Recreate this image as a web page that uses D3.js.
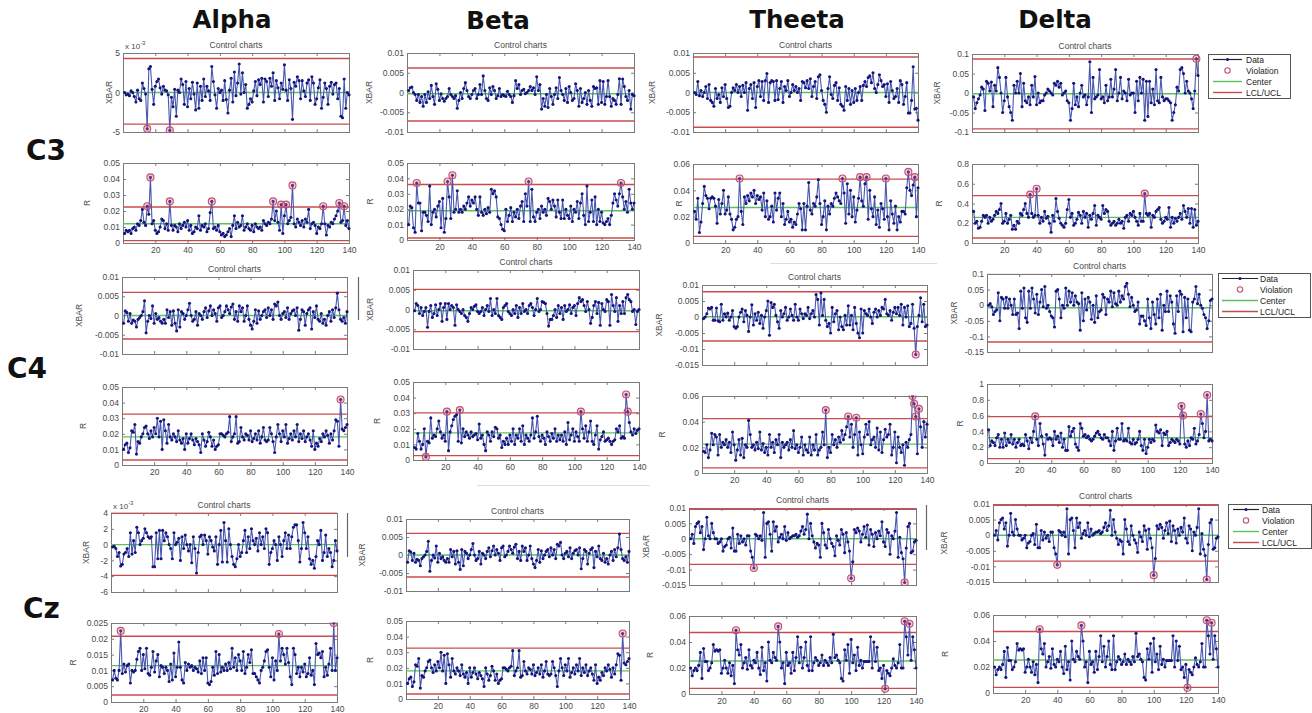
<!DOCTYPE html>
<html><head><meta charset="utf-8">
<script src="https://cdn.jsdelivr.net/npm/d3@7"></script>
<style>
html,body{margin:0;padding:0;background:#fff;}
svg{display:block;}
</style></head>
<body>
<svg id="c" width="1312" height="713"></svg>
<script>
// ---------------- categories / labels ----------------
const bands = ["Alpha", "Beta", "Theeta", "Delta"];
const channels = ["C3", "C4", "Cz"];
const xTicks = [20, 40, 60, 80, 100, 120, 140];
const nPoints = 140;
const legendItems = ["Data", "Violation", "Center", "LCL/UCL"];

// ---------------- y tick sets ----------------
const ticksAlphaX = [-0.005, 0, 0.005];
const ticksX01 = [-0.01, -0.005, 0, 0.005, 0.01];
const ticksX015 = [-0.015, -0.01, -0.005, 0, 0.005, 0.01];
const ticksDeltaC3X = [-0.1, -0.05, 0, 0.05, 0.1];
const ticksDeltaC4X = [-0.15, -0.1, -0.05, 0, 0.05, 0.1];
const ticksAlphaCzX = [-0.006, -0.004, -0.002, 0, 0.002, 0.004];
const ticksR05 = [0, 0.01, 0.02, 0.03, 0.04, 0.05];
const ticksR06 = [0, 0.02, 0.04, 0.06];
const ticksR08 = [0, 0.2, 0.4, 0.6, 0.8];
const ticksR1 = [0, 0.2, 0.4, 0.6, 0.8, 1];
const ticksR025 = [0, 0.005, 0.01, 0.015, 0.02, 0.025];

// ---------------- series ----------------
// C3 / Alpha  XBAR (x1e-4), R (x1e-3)
const alphaC3_xbar = [0,-3,-2,-4,2,0,-5,-12,3,-8,-10,12,5,-2,-46,30,33,4,-15,8,
 14,17,6,-2,8,3,2,-3,-48,-6,-18,4,-30,3,0,17,10,-15,14,-18,
 5,-8,13,-2,-22,12,-20,8,-10,17,-5,8,2,-10,33,14,-3,-20,5,0,
 3,-10,15,-9,-26,3,18,-12,26,-4,12,36,-2,25,0,10,-20,-15,-8,-12,
 2,14,-4,16,10,18,-12,17,14,-5,18,8,25,-10,15,6,-8,12,4,35,
 3,-10,16,5,-34,13,8,20,15,-8,15,2,-5,12,16,-10,20,12,-15,-8,
 6,16,-20,-6,12,5,-15,8,13,-2,10,12,-8,5,-30,-32,17,-20,0,-3];
const alphaC3_xbarLim = [-40, 0, 43];
const alphaC3_r = [6,8,7,8,6,9,10,8,12,11,14,21,13,11,23,18,41,12,14,8,
 6,7,10,15,14,9,12,8,26,11,8,11,10,7,12,9,11,13,10,14,
 8,11,6,7,10,9,17,8,11,10,12,7,9,19,26,9,10,8,11,7,
 5,6,4,5,7,9,4,11,17,9,13,10,11,17,8,10,12,9,8,11,
 7,12,10,9,10,8,14,12,11,13,12,15,26,14,20,13,8,24,6,17,
 24,12,14,16,36,12,10,15,13,11,14,10,15,13,21,9,12,13,11,6,
 10,9,12,23,12,5,11,10,13,12,15,17,20,25,13,14,23,11,14,9];
const alphaC3_rLim = [1.5, 12, 22.5];

// C3 / Beta  XBAR (x1e-4), R (x1e-3)
const betaC3_xbar = [5,12,14,0,-5,-20,-5,-25,-10,-35,-5,-25,2,-15,18,-10,-30,22,8,-20,
 -3,-15,-22,-15,-10,10,-5,-10,-15,-8,-40,-20,0,-15,10,25,5,-10,-15,-5,
 5,10,-15,-5,20,-5,42,5,-15,-20,12,-5,15,5,-15,-8,10,-10,-5,-8,
 -10,3,-5,-10,-25,-8,30,10,20,-5,5,8,-3,0,5,15,5,12,-5,40,
 5,20,-42,-15,-35,-5,-38,10,-10,-30,-5,12,-15,38,5,-5,-20,10,-25,15,
 0,-20,-15,22,5,-35,10,-25,-15,0,-30,5,-20,-35,15,10,12,-30,30,-25,
 28,-30,-10,30,-10,-35,-15,-20,-30,-5,35,-30,34,15,-10,-20,5,-42,-5,-8];
const betaC3_xbarLim = [-72, -3, 62];
const betaC3_r = [10,22,21,8,5,37,24,24,6,18,18,16,12,35,10,18,20,15,22,25,
 8,27,5,14,38,28,14,42,18,20,32,18,20,18,22,20,24,28,22,26,
 24,28,20,16,28,18,16,20,17,21,18,33,30,32,28,15,14,10,7,6,
 20,12,16,21,12,18,15,20,14,22,25,12,30,22,38,12,33,15,12,18,
 20,14,22,18,20,16,27,25,20,26,22,15,26,18,14,26,14,20,16,14,
 22,12,20,18,25,14,24,30,16,10,35,12,18,26,12,28,10,20,12,18,
 11,10,12,14,10,16,24,30,26,22,30,37,28,20,25,18,33,24,20,24];
const betaC3_rLim = [1.3, 19, 36];

// C3 / Theeta  XBAR (x1e-4), R (x1e-3)
const theetaC3_xbar = [0,-5,28,-8,5,-10,0,15,-15,20,-20,-25,-35,10,-15,-5,-25,12,-10,20,
 -15,-38,-35,0,12,5,20,0,15,-10,18,0,25,-45,10,20,-15,25,-38,15,
 30,-10,28,-20,30,48,-25,25,30,28,-20,30,-18,10,28,-25,15,5,30,-10,
 0,20,5,15,0,10,-20,28,25,12,30,10,35,-10,15,28,-15,40,45,5,
 -20,-30,-50,10,40,-5,-15,18,25,-20,12,-30,-35,-45,15,-20,10,-30,5,-25,
 10,-20,0,15,-20,18,28,15,38,42,25,50,10,0,20,45,30,15,20,-10,
 22,-25,28,5,-15,-10,10,-25,30,20,-30,-10,25,-52,-52,-20,65,-42,-40,-70];
const theetaC3_xbarLim = [-88, 0, 90];
const theetaC3_r = [24,18,34,8,16,30,43,36,34,26,34,35,34,28,15,33,22,30,40,22,
 25,35,22,18,10,12,18,20,49,24,14,35,30,36,32,38,35,40,30,36,
 33,35,25,38,20,32,18,20,28,16,38,25,34,38,20,30,14,18,24,16,
 18,12,16,14,22,30,26,10,30,10,28,46,25,22,30,28,35,48,30,14,
 20,32,10,28,22,30,28,34,38,35,32,30,49,38,15,45,22,40,20,35,
 16,25,34,50,32,28,45,50,18,40,26,20,35,14,25,12,30,26,18,49,
 20,10,32,22,15,28,10,20,16,24,24,22,42,54,40,36,44,50,20,42];
const theetaC3_rLim = [5, 27, 48.5];

// C3 / Delta  XBAR (x1e-3), R (x1e-2)
const deltaC3_xbar = [-10,-40,-25,-15,-5,15,10,-45,30,25,5,28,-35,20,5,65,40,0,-50,-20,
 40,-10,-35,-50,-70,20,0,30,0,50,-35,25,-20,-25,-10,-30,20,-10,42,-30,
 0,-25,-20,-20,-5,0,10,5,0,-5,25,20,30,15,25,-5,0,5,-20,-25,
 -70,-40,25,-30,-10,-35,0,20,-10,-5,-30,-10,80,-50,40,-15,-10,-5,60,-15,
 -10,-25,20,-20,-10,35,-10,10,60,-20,0,40,-15,5,0,-20,35,-5,0,0,
 -50,30,-20,40,0,35,-70,30,-60,30,-25,10,-30,60,-20,-25,40,-10,-20,-15,
 -15,-20,-25,-70,-50,-30,15,5,60,65,50,0,30,5,0,-15,-40,5,88,45];
const deltaC3_xbarLim = [-92, -2, 87];
const deltaC3_r = [32,20,22,15,16,22,28,26,28,20,26,22,24,28,32,30,34,40,20,22,
 30,20,24,28,14,18,14,22,20,30,28,34,40,30,26,49,30,26,28,55,
 28,20,26,22,32,25,27,20,11,28,22,45,32,25,20,18,16,20,34,44,
 26,30,18,20,24,31,28,20,32,26,30,16,28,24,30,38,18,28,26,24,
 38,30,34,32,22,18,20,22,18,20,24,20,22,15,26,28,22,30,28,32,
 26,22,18,30,22,22,50,30,28,30,16,28,26,32,34,36,24,20,22,26,
 24,36,16,26,20,25,22,26,30,24,38,32,26,35,20,35,16,34,18,22];
const deltaC3_rLim = [5, 26, 48];

// C4 / Alpha (also shown again as Cz / Beta)  XBAR (x1e-4), R (x1e-3)
const alphaC4_xbar = [-20,12,8,-15,5,-20,-12,-15,-30,-10,-5,0,10,38,-45,-15,0,-8,25,-20,
 5,-10,-5,-15,-20,-10,-20,15,-5,10,-25,12,-20,-40,15,-30,10,5,-10,0,
 15,32,0,-15,-10,10,-25,5,0,-10,10,20,-5,12,25,0,15,5,-15,20,
 25,-5,0,10,25,15,5,22,30,-10,10,-15,25,10,20,-15,0,25,-10,-25,
 -35,-15,15,-20,12,-10,0,10,15,-5,20,0,15,-10,30,25,35,0,-10,5,
 10,-5,20,-10,5,12,15,0,20,-38,-10,15,10,-25,5,15,20,-35,10,-5,
 25,-10,-15,5,-20,-10,-25,0,10,-15,15,-5,20,58,15,-10,-15,-5,-20,10];
const alphaC4_xbarLim = [-61, 0, 60];
const alphaC4_r = [10,13,14,8,11,22,21,26,7,15,14,18,20,24,25,20,17,22,18,24,
 20,30,18,28,10,29,22,14,26,18,16,20,18,15,22,16,14,17,10,20,
 14,17,20,16,13,17,15,13,8,20,16,12,15,21,18,12,16,10,12,13,
 20,20,19,18,20,21,31,15,18,20,31,14,15,24,18,16,20,19,16,22,
 15,17,20,16,22,14,18,24,16,15,16,24,20,15,8,18,26,20,15,22,
 18,26,14,17,20,16,22,18,26,15,20,17,22,15,18,20,16,12,22,10,
 14,12,17,15,20,18,22,19,14,20,16,22,29,28,12,42,23,22,24,26];
const alphaC4_rLim = [3.2, 18, 32.6];

// C4 / Beta  XBAR (x1e-4), R (x1e-3)
const betaC4_xbar = [-3,15,10,-10,5,-15,-5,5,-45,-5,10,-20,-10,12,-15,0,15,-30,5,15,
 -25,15,0,10,5,-40,12,0,-5,-10,0,-15,-20,-30,-10,5,0,8,12,-5,
 -10,-5,5,-15,0,10,-5,28,-15,0,-10,28,-15,-20,-25,5,10,15,-5,-10,
 -15,0,-10,10,-20,5,-10,15,-5,0,-10,10,15,5,-15,0,28,-5,0,20,
 18,15,-10,-42,-25,-25,-15,0,-20,10,-10,5,-25,10,-5,0,12,-10,5,10,
 -15,15,30,20,25,10,-5,20,0,-35,-20,10,20,-10,18,-40,15,0,-5,25,
 20,-40,38,10,-5,30,-30,10,-10,20,-10,30,38,25,20,-5,0,-38,-5,0];
const betaC4_xbarLim = [-56, -3, 51];
const betaC4_r = [8,7,17,12,7,10,20,2,12,11,27,14,16,15,20,25,18,14,16,12,
 31,6,18,22,26,28,29,12,32,11,20,15,18,16,14,18,15,16,17,13,
 23,14,16,10,6,18,16,12,18,15,21,20,14,16,8,12,10,14,10,16,
 12,20,10,16,14,20,12,22,10,16,14,12,16,27,14,18,28,15,12,16,
 14,10,18,15,12,17,14,20,12,16,13,16,12,18,10,24,13,16,20,12,
 18,15,12,31,20,14,22,12,18,25,12,10,16,22,7,13,15,18,12,13,
 14,12,10,12,13,20,18,22,14,15,14,42,31,24,18,16,20,17,19,20];
const betaC4_rLim = [2.8, 17.4, 30.2];

// C4 / Theeta  XBAR (x1e-4), R (x1e-3)
const theetaC4_xbar = [-5,0,10,28,25,30,-10,-10,28,-12,-15,40,-10,10,0,12,-10,0,20,-30,
 -35,-30,0,15,25,-15,20,5,-45,0,38,-25,10,-10,15,-20,5,-35,0,20,
 50,-57,45,30,40,5,-15,-35,20,0,10,30,-10,0,25,5,-10,40,0,-10,
 25,10,-5,10,5,30,-5,10,20,0,70,55,-25,75,5,55,-10,-30,-20,-50,
 30,-15,10,20,-40,0,-30,-40,5,-25,35,-25,5,-40,30,-20,-50,-65,25,-50,
 20,10,5,25,0,-20,15,25,0,20,5,30,25,55,10,5,20,-10,15,30,
 10,30,5,40,-25,30,0,35,-30,-20,40,-35,-117,-30,5,60,-15,40,-30,-25];
const theetaC4_xbarLim = [-75, 1, 79];
const theetaC4_r = [17,16,22,12,18,31,22,30,28,14,30,20,24,22,26,20,24,16,32,22,
 10,18,26,14,27,12,22,20,41,30,20,22,18,24,19,32,18,23,16,20,
 14,30,20,24,16,26,22,30,12,24,20,22,24,18,26,20,33,19,22,16,
 20,28,14,22,18,16,28,14,22,18,30,14,18,20,32,22,49,12,20,16,
 30,22,26,20,28,24,33,26,30,36,44,28,38,20,30,43,14,32,22,15,
 28,38,30,40,22,26,28,20,35,18,32,16,26,34,28,30,38,14,20,32,
 8,28,20,16,22,6,24,20,26,30,60,54,44,15,50,36,20,40,28,38];
const theetaC4_rLim = [4, 22.5, 42.4];

// C4 / Delta  XBAR (x1e-3), R (x1e-2)
const deltaC4_xbar = [0,5,-5,-30,-20,-15,40,-50,25,20,-10,25,-10,20,0,-30,20,-30,-25,-75,
 45,-10,55,-40,-55,45,-10,55,20,-25,35,-30,10,50,-5,60,-10,0,-20,-35,
 -40,-70,45,50,20,-40,0,-10,55,0,45,10,40,0,30,10,5,-80,40,-50,
 20,-15,25,10,-45,0,-55,30,-40,-20,-15,35,25,-30,20,10,45,-5,40,5,
 0,45,10,30,20,60,70,35,-5,25,0,-20,-15,10,-60,-35,-35,-50,-65,20,
 -40,-75,10,-30,-60,20,-40,35,-80,0,-20,45,-20,30,10,-60,-90,30,-20,45,
 35,-85,25,-40,20,-80,-85,10,20,60,5,35,0,-10,-30,-40,-75,-50,15,20];
const deltaC4_xbarLim = [-118, -8, 105];
const deltaC4_r = [42,22,28,26,22,32,36,20,30,20,38,22,30,26,36,24,30,20,26,30,
 22,24,22,36,28,18,32,26,40,59,30,22,50,34,24,10,36,30,32,30,
 22,40,30,34,26,38,20,30,16,16,46,34,40,44,24,20,16,50,44,34,
 36,32,34,30,28,30,34,38,40,36,32,30,36,32,32,28,22,40,16,28,
 44,30,30,50,28,30,28,44,26,24,30,24,26,30,40,22,16,30,12,20,
 30,26,30,28,48,40,38,42,22,38,36,40,22,26,30,28,26,30,28,24,
 72,60,24,20,28,22,32,30,44,24,28,36,62,50,32,40,86,28,30,28];
const deltaC4_rLim = [5.5, 32, 58.7];

// Cz / Alpha  XBAR (x1e-4), R (x1e-4)
const alphaCz_xbar = [-3,-2,-5,-15,-10,-27,-25,-12,-10,-5,-15,15,-12,5,-10,22,15,0,5,8,
 20,15,10,8,10,-28,-28,15,-18,18,-18,18,5,15,10,0,-5,-18,15,0,
 3,8,-20,10,-5,12,0,-8,0,-23,10,-5,-36,-10,10,12,0,12,5,-12,
 10,5,-3,-8,10,-25,0,18,-22,28,5,-22,20,0,-15,-25,-28,-18,0,-15,
 -10,5,18,-10,10,-5,20,5,0,8,-8,15,0,10,-5,20,15,-25,-10,-5,
 5,0,-20,10,0,-15,5,15,-5,12,-5,10,22,25,25,5,-22,-5,28,15,
 -5,10,-18,-25,-20,-30,-15,5,0,18,-20,-10,12,-15,-5,-10,-28,-20,5,-8];
const alphaCz_xbarLim = [-39, 0, 40];
const alphaCz_r = [70,100,75,70,100,225,90,120,95,115,120,60,100,95,100,135,160,170,100,150,
 105,170,90,85,110,160,95,130,150,80,115,110,90,110,100,65,120,70,155,80,
 110,190,110,70,60,125,100,120,110,115,100,110,105,95,130,90,140,100,140,60,
 55,65,110,85,160,90,150,95,110,100,120,100,125,105,170,110,140,100,150,130,
 100,160,90,110,150,125,165,90,90,80,70,60,100,110,130,160,165,110,80,140,
 70,130,100,215,130,170,150,120,170,125,80,55,170,150,90,110,80,110,95,120,
 80,90,140,85,100,55,185,150,155,140,160,80,110,85,120,170,100,250,100,140];
const alphaCz_rLim = [22, 115, 208];

// Cz / Theeta (also shown again as Cz / Delta)  XBAR (x1e-4), R (x1e-3)
const theetaCz_xbar = [0,15,-15,40,50,55,20,40,-35,0,70,10,0,50,20,0,0,-15,-10,0,
 -40,-25,-20,0,5,-30,35,-40,-40,15,-15,10,-10,0,-20,10,10,-40,-60,-95,
 15,10,0,10,-5,85,-60,50,55,15,-40,55,25,40,-10,5,15,0,40,-5,
 20,0,5,10,10,15,5,10,25,40,15,30,80,0,50,10,-10,-30,-15,-20,
 -60,50,20,-20,-30,30,0,-15,-25,-55,10,-5,-20,30,15,-45,20,-10,-40,-128,
 -75,30,20,35,25,-10,15,40,5,45,-20,30,15,-25,20,0,25,10,55,-10,
 -25,30,20,-50,10,0,25,85,-60,5,-45,-65,-142,-30,40,50,-45,-40,-10,-5];
const theetaCz_xbarLim = [-83, 0, 96];
const theetaCz_r = [20,14,18,20,18,22,32,12,35,25,25,18,20,24,38,33,34,33,34,16,
 20,26,20,16,24,14,22,8,49,34,30,38,20,24,28,19,34,22,20,26,
 24,32,20,15,36,18,24,10,40,26,24,32,28,26,52,40,20,24,8,32,
 22,24,16,32,18,28,44,24,36,20,28,40,22,18,44,18,24,28,26,22,
 24,30,22,26,24,22,28,24,46,28,30,26,24,12,10,34,26,38,16,42,
 24,30,18,36,22,26,20,25,25,25,25,44,20,40,25,36,18,20,12,22,
 4,18,16,14,20,27,22,20,24,38,20,20,56,44,30,54,26,44,34,20];
const theetaCz_rLim = [4.3, 25.4, 47.3];

// ---------------- layout ----------------
const svg = d3.select("#c");
const FONT = "'Liberation Sans', Arial, sans-serif";

const P = (series, unit, lim, ticks, rect, kind, labDx, opt = {}) =>
  Object.assign({series, unit, lim, ticks, rect, kind, labDx}, opt);
const fmtMilli = v => String(Math.round(v * 1e6) / 1e3);

const panels = [
  // C3
  P(alphaC3_xbar, 1e-4, alphaC3_xbarLim, ticksAlphaX, [123,53,349,132], "XBAR", -11, {fmt: fmtMilli, exp: true}),
  P(alphaC3_r, 1e-3, alphaC3_rLim, ticksR05, [123,163,349,243], "R", -33),
  P(betaC3_xbar, 1e-4, betaC3_xbarLim, ticksX01, [407,53,634,132], "XBAR", -35),
  P(betaC3_r, 1e-3, betaC3_rLim, ticksR05, [407,163,634,240], "R", -34),
  P(theetaC3_xbar, 1e-4, theetaC3_xbarLim, ticksX01, [693,53,918,132], "XBAR", -38),
  P(theetaC3_r, 1e-3, theetaC3_rLim, ticksR06, [693,164,918,243], "R", -11),
  P(deltaC3_xbar, 1e-3, deltaC3_xbarLim, ticksDeltaC3X, [972,54,1198,132], "XBAR", -32),
  P(deltaC3_r, 1e-2, deltaC3_rLim, ticksR08, [972,164,1198,243], "R", -30),
  // C4
  P(alphaC4_xbar, 1e-4, alphaC4_xbarLim, ticksX01, [122,277,347,354], "XBAR", -40),
  P(alphaC4_r, 1e-3, alphaC4_rLim, ticksR05, [122,387,347,465], "R", -36),
  P(betaC4_xbar, 1e-4, betaC4_xbarLim, ticksX01, [413,270,639,349], "XBAR", -40),
  P(betaC4_r, 1e-3, betaC4_rLim, ticksR05, [413,382,639,460], "R", -33),
  P(theetaC4_xbar, 1e-4, theetaC4_xbarLim, ticksX015, [702,285,927,365], "XBAR", -40),
  P(theetaC4_r, 1e-3, theetaC4_rLim, ticksR06, [702,396,927,473], "R", -37),
  P(deltaC4_xbar, 1e-3, deltaC4_xbarLim, ticksDeltaC4X, [987,274,1212,352], "XBAR", -30),
  P(deltaC4_r, 1e-2, deltaC4_rLim, ticksR1, [987,384,1212,463], "R", -24),
  // Cz
  P(alphaCz_xbar, 1e-4, alphaCz_xbarLim, ticksAlphaCzX, [111,513,337,592], "XBAR", -22, {fmt: fmtMilli, exp: true}),
  P(alphaCz_r, 1e-4, alphaCz_rLim, ticksR025, [111,623,337,702], "R", -35),
  P(alphaC4_xbar, 1e-4, alphaC4_xbarLim, ticksX01, [406,519,629,591], "XBAR", -41),
  P(alphaC4_r, 1e-3, alphaC4_rLim, ticksR05, [406,621,629,699], "R", -33),
  P(theetaCz_xbar, 1e-4, theetaCz_xbarLim, ticksX015, [689,508,916,585], "XBAR", -40),
  P(theetaCz_r, 1e-3, theetaCz_rLim, ticksR06, [689,616,916,694], "R", -36),
  P(theetaCz_xbar, 1e-4, theetaCz_xbarLim, ticksX015, [993,504,1218,582], "XBAR", -46),
  P(theetaCz_r, 1e-3, theetaCz_rLim, ticksR06, [993,615,1218,693], "R", -45)
];

const headerPos = [[232, 28], [498, 29], [797, 28], [1055, 28]];
const rowPos = [[26, 160], [7, 378], [23, 618]];

const C_LINE = "#4757ae", C_DOT = "#14147a", C_CENTER = "#5cc05c", C_LIMIT = "#c84c4c",
      C_VIOL = "#c4506e", C_FRAME = "#7a7a7a", C_TXT = "#4a4a4a";

panels.forEach((p, k) => {
  const [l, t, r, b] = p.rect;
  const x = d3.scaleLinear().domain([0, nPoints]).range([l, r]);
  const y = d3.scaleLinear().domain(d3.extent(p.ticks)).range([b, t]);
  const g = svg.append("g");
  const clipId = "clip" + k;
  svg.append("clipPath").attr("id", clipId).append("rect")
    .attr("x", l - 5).attr("y", t - 0.5).attr("width", r - l + 10).attr("height", b - t + 1);
  const vals = p.series.map(v => v * p.unit);
  const [lcl, cl, ucl] = p.lim.map(v => v * p.unit);
  const fmt = p.fmt || (v => String(v));

  const axStyle = sel => {
    sel.select(".domain").remove();
    sel.selectAll("line").attr("stroke", C_FRAME);
    sel.selectAll("text").attr("fill", C_TXT).style("font-family", FONT).style("font-size", "8.5px");
  };
  g.append("g").attr("transform", `translate(${l},0)`)
    .call(d3.axisLeft(y).tickValues(p.ticks).tickSizeInner(-3).tickSizeOuter(0).tickPadding(3).tickFormat(fmt))
    .call(axStyle);
  g.append("g").attr("transform", `translate(${r},0)`)
    .call(d3.axisRight(y).tickValues(p.ticks).tickSizeInner(-3).tickSizeOuter(0).tickFormat(""))
    .call(axStyle);
  g.append("g").attr("transform", `translate(0,${b})`)
    .call(d3.axisBottom(x).tickValues(xTicks).tickSizeInner(-3).tickSizeOuter(0).tickPadding(4)
      .tickFormat(p.kind === "R" ? d3.format("d") : ""))
    .call(axStyle);
  g.append("g").attr("transform", `translate(0,${t})`)
    .call(d3.axisTop(x).tickValues(xTicks).tickSizeInner(-3).tickSizeOuter(0).tickFormat(""))
    .call(axStyle);

  g.append("rect").attr("x", l + 0.5).attr("y", t + 0.5).attr("width", r - l).attr("height", b - t)
    .attr("fill", "none").attr("stroke", C_FRAME).attr("stroke-width", 1);

  const inner = g.append("g").attr("clip-path", `url(#${clipId})`);
  [lcl, ucl].forEach(v => {
    inner.append("line").attr("x1", l).attr("x2", r).attr("y1", y(v)).attr("y2", y(v))
      .attr("stroke", C_LIMIT).attr("stroke-width", 1.4);
  });
  inner.append("line").attr("x1", l).attr("x2", r).attr("y1", y(cl)).attr("y2", y(cl))
    .attr("stroke", C_CENTER).attr("stroke-width", 1.4);

  const line = d3.line().x((d, i) => x(i + 1)).y(d => y(d));
  inner.append("path").datum(vals).attr("d", line).attr("fill", "none")
    .attr("stroke", C_LINE).attr("stroke-width", 1.1).attr("stroke-linejoin", "round");
  inner.selectAll("circle.pt").data(vals).join("circle").attr("class", "pt")
    .attr("cx", (d, i) => x(i + 1)).attr("cy", d => y(d)).attr("r", 1.55).attr("fill", C_DOT);
  const viol = vals.map((d, i) => [i + 1, d]).filter(([i, d]) => d > ucl || d < lcl);
  inner.selectAll("circle.v").data(viol).join("circle").attr("class", "v")
    .attr("cx", d => x(d[0])).attr("cy", d => y(d[1])).attr("r", 3.5)
    .attr("fill", "rgba(214,110,150,0.35)").attr("stroke", C_VIOL).attr("stroke-width", 1.1);

  const ly = (t + b) / 2;
  g.append("text").attr("transform", `translate(${l + p.labDx},${ly}) rotate(-90)`)
    .attr("text-anchor", "middle").attr("fill", C_TXT)
    .style("font-family", FONT).style("font-size", "8.5px").text(p.kind);

  if (p.kind === "XBAR") {
    g.append("text").attr("x", (l + r) / 2).attr("y", t - 5).attr("text-anchor", "middle")
      .attr("fill", C_TXT).style("font-family", FONT).style("font-size", "8.5px").text("Control charts");
  }
  if (p.exp) {
    const e = g.append("text").attr("x", l + 2).attr("y", t - 4).attr("fill", C_TXT)
      .style("font-family", FONT).style("font-size", "8px");
    e.append("tspan").text("x 10");
    e.append("tspan").attr("dy", -4).style("font-size", "6px").text("-3");
  }
});

bands.forEach((s, i) => {
  svg.append("text").attr("x", headerPos[i][0]).attr("y", headerPos[i][1]).attr("text-anchor", "middle")
    .style("font-family", "'DejaVu Sans', sans-serif").style("font-weight", "bold").style("font-size", "24.5px")
    .attr("fill", "#111").text(s);
});
channels.forEach((s, i) => {
  svg.append("text").attr("x", rowPos[i][0]).attr("y", rowPos[i][1])
    .style("font-family", "'DejaVu Sans', sans-serif").style("font-weight", "bold").style("font-size", "28px")
    .attr("fill", "#111").text(s);
});

// legends: [x0, y0, x1, y1, lineX0, lineX1, textX]
const legends = [
  [1208, 54, 1290, 98, 1213, 1242, 1246],
  [1218, 273, 1310, 317, 1222, 1258, 1260],
  [1228, 504, 1311, 548, 1233, 1259, 1262]
];
legends.forEach(([x0, y0, x1, y1, lx0, lx1, tx]) => {
  const g = svg.append("g");
  g.append("rect").attr("x", x0 + 0.5).attr("y", y0 + 0.5).attr("width", x1 - x0).attr("height", y1 - y0)
    .attr("fill", "#fff").attr("stroke", "#555").attr("stroke-width", 1);
  const step = (y1 - y0) / 4;
  legendItems.forEach((name, i) => {
    const yy = y0 + step * (i + 0.5);
    const mid = (lx0 + lx1) / 2;
    if (i === 0) {
      g.append("line").attr("x1", lx0).attr("x2", lx1).attr("y1", yy).attr("y2", yy).attr("stroke", "#223").attr("stroke-width", 1.2);
      g.append("circle").attr("cx", mid).attr("cy", yy).attr("r", 1.5).attr("fill", C_DOT);
    } else if (i === 1) {
      g.append("circle").attr("cx", mid).attr("cy", yy).attr("r", 2.7).attr("fill", "none").attr("stroke", C_VIOL).attr("stroke-width", 1.1);
    } else {
      g.append("line").attr("x1", lx0).attr("x2", lx1).attr("y1", yy).attr("y2", yy)
        .attr("stroke", i === 2 ? C_CENTER : C_LIMIT).attr("stroke-width", 1.4);
    }
    g.append("text").attr("x", tx).attr("y", yy + 3).attr("fill", "#222")
      .style("font-family", FONT).style("font-size", "8.5px").text(name);
  });
});

// stray fragments visible in the pasted figure
const strays = [[358, 277, 358, 320], [347, 513, 347, 557], [926, 505, 926, 550]];
strays.forEach(([a, b2, c, d]) => svg.append("line").attr("x1", a + 0.5).attr("y1", b2).attr("x2", c + 0.5).attr("y2", d)
  .attr("stroke", "#666").attr("stroke-width", 1.2));
const faint = [[770, 263, 937, 263], [477, 485, 650, 485]];
faint.forEach(([a, b2, c, d]) => svg.append("line").attr("x1", a).attr("y1", b2 + 0.5).attr("x2", c).attr("y2", d + 0.5)
  .attr("stroke", "#ddd").attr("stroke-width", 1));
</script>
</body></html>
